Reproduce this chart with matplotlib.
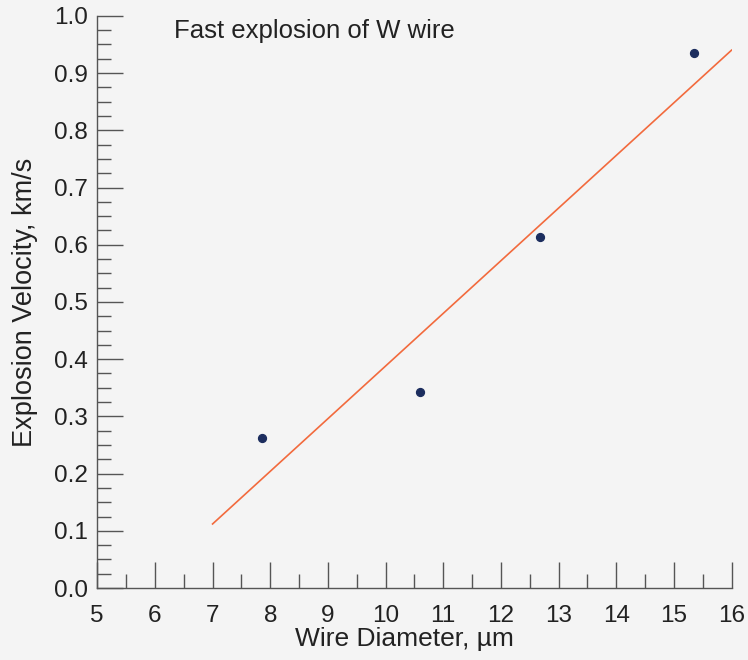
import numpy as np
import matplotlib.pyplot as plt
from matplotlib.ticker import MultipleLocator

plt.rcParams['font.family'] = ['Liberation Sans', 'DejaVu Sans']

# measured points
diameter = [7.86, 10.6, 12.68, 15.35]
velocity = [0.262, 0.343, 0.613, 0.935]

# fitted line end points
fit_x = [7.0, 16.0]
fit_y = [0.112, 0.94]

fig = plt.figure(figsize=(7.48, 6.6), dpi=100, facecolor='#f4f4f4')
ax = fig.add_axes([0.13, 0.109, 0.848, 0.867])
ax.set_facecolor('#f4f4f4')

ax.plot(fit_x, fit_y, color='#f26a3d', lw=1.2)
ax.scatter(diameter, velocity, s=32, color='#1c2d5e', zorder=3)

ax.set_xlim(5, 16)
ax.set_ylim(0, 1.0)
ax.xaxis.set_major_locator(MultipleLocator(1))
ax.xaxis.set_minor_locator(MultipleLocator(0.5))
ax.yaxis.set_major_locator(MultipleLocator(0.1))
ax.yaxis.set_minor_locator(MultipleLocator(0.025))
ax.yaxis.set_major_formatter(plt.FuncFormatter(lambda v, p: f"{v:.1f}"))

for s in ['top', 'right']:
    ax.spines[s].set_visible(False)
for s in ['left', 'bottom']:
    ax.spines[s].set_color('#555555')
    ax.spines[s].set_linewidth(1.0)

ax.tick_params(which='major', direction='in', length=19, width=1.0, color='#555555',
               labelsize=17.5, labelcolor='#222222')
ax.tick_params(which='minor', direction='in', length=10, width=1.0, color='#555555')
ax.tick_params(axis='y', which='major', pad=7)
ax.tick_params(axis='x', which='major', pad=12)

ax.set_xlabel('Wire Diameter, µm', fontsize=19, color='#222222', labelpad=0)
ax.xaxis.label.set_x(0.485)
ax.set_ylabel('Explosion Velocity, km/s', fontsize=19.5, color='#222222', labelpad=11)

fig.text(174 / 748, 1 - 31 / 660, 'Fast explosion of W wire', fontsize=18.5,
         color='#222222', va='center', ha='left')

fig.savefig('out.png', dpi=100, facecolor=fig.get_facecolor())
